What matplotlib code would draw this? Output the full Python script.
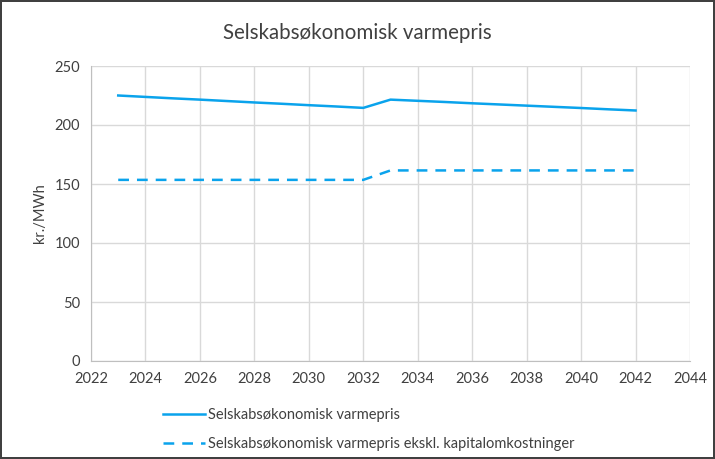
import matplotlib
matplotlib.use("Agg")
import matplotlib.pyplot as plt

plt.rcParams['font.family'] = ['Lato', 'DejaVu Sans']

years_a = [2023, 2024, 2025, 2026, 2027, 2028, 2029, 2030, 2031, 2032]
years_b = [2033, 2034, 2035, 2036, 2037, 2038, 2039, 2040, 2041, 2042]
price_a = [225.0, 223.8, 222.6, 221.5, 220.3, 219.1, 218.0, 216.8, 215.7, 214.5]
price_b = [221.5, 220.5, 219.5, 218.4, 217.4, 216.4, 215.4, 214.4, 213.3, 212.3]
excl_a = [153.5] * 10
excl_b = [161.5] * 10

years = years_a + years_b
price = price_a + price_b
excl = excl_a + excl_b

label1 = "Selskabsøkonomisk varmepris"
label2 = "Selskabsøkonomisk varmepris ekskl. kapitalomkostninger"
color = "#0AA3EC"

fig = plt.figure(figsize=(7.15, 4.59), dpi=100)
fig.patch.set_edgecolor("#404040")
fig.patch.set_linewidth(1.5)
ax = fig.add_axes([91/715, 1-361/459, (690-91)/715, (361-66)/459])

l1, = ax.plot(years, price, color=color, lw=1.8, label=label1)
l2, = ax.plot(years, excl, color=color, lw=1.8, ls=(0, (4.3, 3.2)), label=label2)

ax.set_xlim(2022, 2044)
ax.set_ylim(0, 250)
ax.set_xticks(range(2022, 2045, 2))
ax.set_yticks(range(0, 251, 50))
ax.grid(True, color="#D9D9D9", lw=1)
ax.set_axisbelow(True)
for s in ["top", "right"]:
    ax.spines[s].set_visible(False)
for s in ["left", "bottom"]:
    ax.spines[s].set_color("#BFBFBF")
ax.tick_params(length=0, labelsize=10.5, labelcolor="#404040", pad=8)
ax.set_ylabel("kr./MWh", fontsize=10.5, color="#404040", labelpad=5)

fig.text(0.5, 1-33/459, "Selskabsøkonomisk varmepris", ha="center", va="center",
         fontsize=14.8, color="#404040")

fig.legend(handles=[l1, l2], loc="upper left", bbox_to_anchor=(150/715, 1-395/459),
           frameon=False, fontsize=10.5, handlelength=2.9, labelspacing=1.0,
           handletextpad=0.15, labelcolor="#404040")

fig.savefig("out.png", dpi=100)
